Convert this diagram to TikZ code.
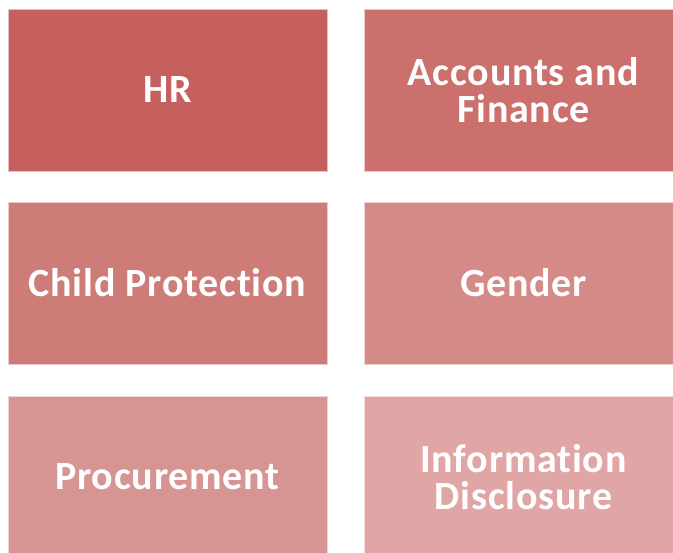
\documentclass[tikz,border=0pt]{standalone}
\usepackage{fontspec}
\setmainfont{Carlito}[Ligatures=NoCommon,LetterSpace=2]
\definecolor{hrred}{RGB}{197,96,94}
\definecolor{accred}{RGB}{203,112,108}
\definecolor{childred}{RGB}{206,124,120}
\definecolor{genderred}{RGB}{212,138,135}
\definecolor{procred}{RGB}{214,149,147}
\definecolor{infored}{RGB}{223,166,165}
\tikzset{
  area/.style={rectangle,minimum width=319pt,minimum height=162pt,
    inner sep=0pt,align=center,text=white,draw=white!60!#1,fill=#1,line width=0.8pt,
    font=\fontsize{40}{37}\selectfont\bfseries}
}
\begin{document}
\begin{tikzpicture}[x=1pt,y=-1pt]
\useasboundingbox (0,0) rectangle (673,553);
\clip (0,0) rectangle (673,553);
% the six areas
\foreach \name/\x/\y/\col/\texto in {
  hr/167.5/90/hrred/{HR},
  acc/523.5/90/accred/{Accounts and\\Finance},
  child/167.5/283/childred/{Child Protection},
  gender/523.5/283/genderred/{Gender},
  proc/167.5/477/procred/{Procurement},
  info/523.5/477/infored/{Information\\Disclosure}}
{
  \node[area=\col] (\name) at (\x,\y) {\texto};
}
\end{tikzpicture}
\end{document}
